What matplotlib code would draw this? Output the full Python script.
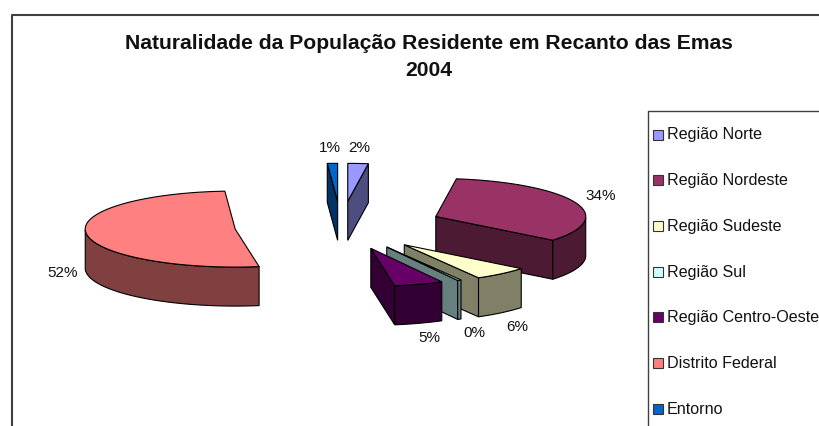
import numpy as np
import matplotlib
matplotlib.use("Agg")
import matplotlib.pyplot as plt
from matplotlib.patches import Polygon, Rectangle

plt.rcParams['font.family'] = ['Liberation Sans', 'DejaVu Sans']

categories = ['Região Norte', 'Região Nordeste', 'Região Sudeste', 'Região Sul',
              'Região Centro-Oeste', 'Distrito Federal', 'Entorno']
values = [2.2, 33.6, 6.0, 0.4, 5.3, 51.5, 1.1]
top_colors = ['#9999FF', '#993366', '#FFFFCC', '#CCFFFF', '#660066', '#FF8080', '#0066CC']
side_colors = ['#4D4D80', '#4D1A33', '#808066', '#668080', '#330033', '#804040', '#003366']
explode = [0.65, 0.68, 0.65, 0.63, 0.62, 0.71, 0.65]
label_pos = [(359, 148), (601, 196), (517, 327), (474, 333), (429, 338), (63, 273), (330, 148)]

W, H = 819, 427
CX, CY = 341, 227   # pie centre, pixels
RX, RY = 150, 38    # ellipse radii
DEPTH = 39


def pt(ox, oy, ang):
    # angle clockwise from 12 o'clock
    return np.array([ox + RX * np.sin(ang), oy - RY * np.cos(ang)])


def draw_slice(ax, i, a0, a1):
    mid = (a0 + a1) / 2
    ox = CX + explode[i] * RX * np.sin(mid)
    oy = CY - explode[i] * RY * np.cos(mid)
    n = max(int(np.degrees(a1 - a0) / 2), 2)
    angs = np.linspace(a0, a1, n)
    arc = np.array([pt(ox, oy, a) for a in angs])
    apex = np.array([ox, oy])
    down = np.array([0, DEPTH])
    centre = pt(ox, oy, mid)

    # cut faces, only those turned towards the viewer
    for edge in (arc[0], arc[-1]):
        d = edge - apex
        nrm = np.array([d[1], -d[0]])
        if np.dot(nrm, centre - apex) > 0:
            nrm = -nrm
        if nrm[1] > 0:
            ax.add_patch(Polygon([apex, edge, edge + down, apex + down],
                                 fc=side_colors[i], ec='black', lw=0.8, zorder=z[i]))

    # outer band, front half of the ellipse
    front = [a for a in angs if np.cos(a) <= 0]
    if len(front) > 1:
        p = np.array([pt(ox, oy, a) for a in front])
        ax.add_patch(Polygon(np.vstack([p, p[::-1] + down]),
                             fc=side_colors[i], ec='black', lw=0.8, zorder=z[i] + 0.1))

    ax.add_patch(Polygon(np.vstack([apex, arc]), fc=top_colors[i], ec='black',
                         lw=0.8, zorder=z[i] + 0.2))


fig = plt.figure(figsize=(W / 100, H / 100), dpi=100)
ax = fig.add_axes([0, 0, 1, 1])
ax.set_xlim(0, W)
ax.set_ylim(H, 0)
ax.axis('off')

# chart frame, open at the right and bottom like the cropped original
ax.plot([11.5, 11.5, W], [H, 15.5, 15.5], color='#404040', lw=1.5, zorder=1)

ax.text(429, 49, 'Naturalidade da População Residente em Recanto das Emas',
        ha='center', va='baseline', fontsize=15.2, fontweight='bold', color='#111111')
ax.text(429, 76, '2004', ha='center', va='baseline', fontsize=15.2, fontweight='bold',
        color='#111111')

shares = np.array(values) / sum(values)
edges = np.concatenate([[0], np.cumsum(shares)]) * 2 * np.pi
mids = (edges[:-1] + edges[1:]) / 2
# back slices first
depth_y = -np.array(explode) * RY * np.cos(mids)
z = {int(i): 2 + k for k, i in enumerate(np.argsort(depth_y))}

for i in range(len(values)):
    draw_slice(ax, i, edges[i], edges[i + 1])
    ax.text(label_pos[i][0], label_pos[i][1], f'{values[i]:.0f}%', ha='center', va='center',
            fontsize=11, color='#111111', zorder=20)

# legend, cut off by the image edge as well
ax.plot([648, 648, W], [H, 112, 112], color='#404040', lw=1.0, zorder=15)
for i, name in enumerate(categories):
    y = 135 + i * 45.7
    ax.add_patch(Rectangle((653, y - 4.5), 10, 10, fc=top_colors[i], ec='#333333', lw=0.8, zorder=16))
    ax.text(667, y, name, ha='left', va='center', fontsize=11.6, color='#111111', zorder=16)

fig.savefig('out.png', dpi=100)
